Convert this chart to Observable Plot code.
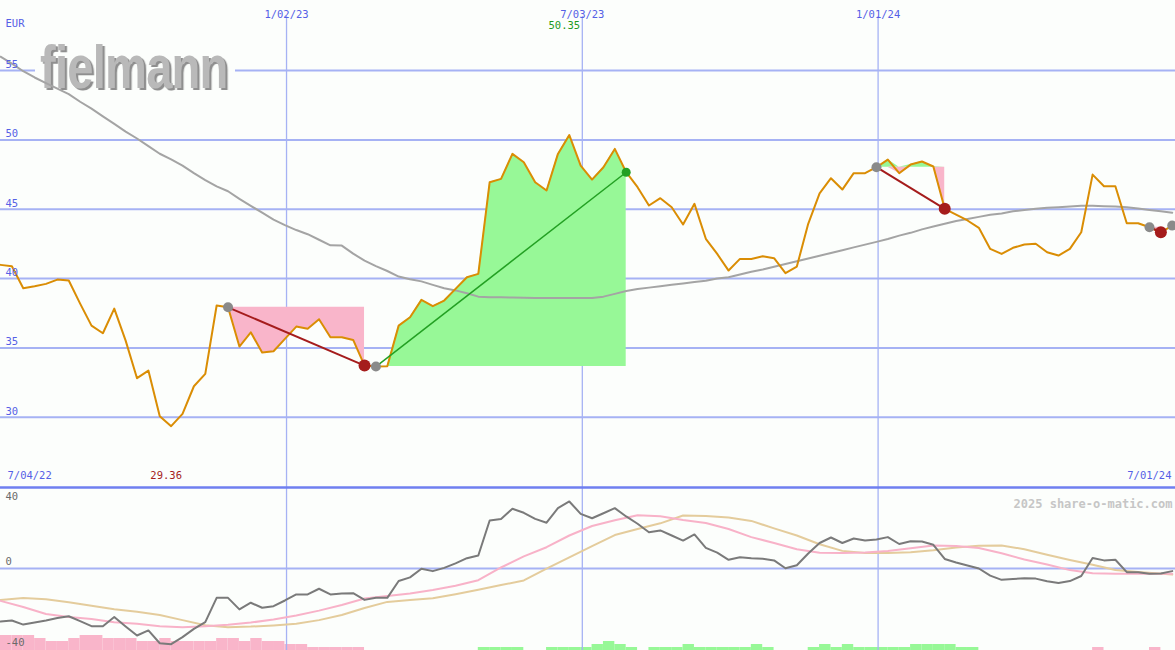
<!DOCTYPE html>
<html><head><meta charset="utf-8">
<script src="https://cdn.jsdelivr.net/npm/d3@7"></script>
<script src="https://cdn.jsdelivr.net/npm/@observablehq/plot@0.6"></script>
<style>
body{margin:0;background:#fcfefc;}
#wrap{position:relative;width:1175px;height:650px;overflow:hidden;background:#fcfefc;}
#wrap svg{position:absolute;left:0;}
</style></head><body><div id="wrap"></div>
<script>
// ---- data (weekly, first week 2022-07-10) ----
const price = [40.99,40.89,39.30,39.45,39.62,39.93,39.86,38.20,36.61,36.06,
37.84,35.53,32.82,33.37,30.08,29.36,30.25,32.24,33.13,38.06,
37.93,35.10,36.13,34.67,34.76,35.66,36.54,36.38,37.07,35.77,
35.77,35.58,33.73,33.66,33.68,36.61,37.21,38.47,38.01,38.42,
39.26,40.10,40.34,46.95,47.19,48.99,48.39,46.95,46.35,48.99,
50.35,48.15,47.14,48.03,49.35,47.67,46.59,45.27,45.80,45.14,
43.90,45.39,42.87,41.78,40.58,41.42,41.42,41.61,41.47,40.39,
40.87,43.95,46.15,47.24,46.42,47.60,47.60,48.03,48.58,47.60,
48.22,48.44,48.08,45.03,44.62,44.19,43.66,42.14,41.78,42.22,
42.46,42.51,41.90,41.66,42.14,43.34,47.50,46.66,46.66,43.99,
43.99,43.70,43.34,43.82];
const movingAvg = [56.0,55.5,54.95,54.5,54.1,53.7,53.3,52.75,52.25,51.7,
51.15,50.6,50.1,49.55,49.0,48.6,48.15,47.6,47.1,46.65,
46.3,45.75,45.25,44.75,44.25,43.85,43.5,43.2,42.8,42.4,
42.38,41.8,41.3,40.9,40.55,40.15,39.95,39.8,39.55,39.3,
39.15,38.95,38.7,38.65,38.65,38.63,38.62,38.61,38.6,38.6,
38.6,38.6,38.6,38.7,38.9,39.1,39.25,39.35,39.45,39.55,
39.65,39.75,39.85,40.0,40.1,40.3,40.5,40.65,40.85,41.05,
41.25,41.45,41.65,41.85,42.05,42.25,42.45,42.65,42.85,43.1,
43.3,43.55,43.75,43.95,44.15,44.3,44.45,44.6,44.7,44.85,
44.95,45.03,45.1,45.15,45.2,45.25,45.25,45.22,45.2,45.15,
45.05,44.95,44.85,44.75];
const momentum = [-26.2,-25.7,-27.7,-26.7,-25.7,-24.5,-23.6,-26.0,-28.5,-28.5,
-24.0,-28.6,-33.1,-30.6,-36.9,-37.4,-33.9,-29.8,-26.5,-14.5,
-14.5,-20.2,-16.9,-19.4,-18.6,-15.8,-12.8,-12.8,-10.0,-12.8,
-12.3,-12.2,-15.5,-14.5,-14.5,-6.2,-4.4,-0.1,-1.3,0.3,
2.5,5.1,6.4,23.7,24.5,29.5,27.5,24.5,22.6,29.8,
33.1,27.0,24.8,27.3,29.8,25.7,22.1,17.9,18.8,16.3,
13.8,16.8,10.2,7.8,4.3,5.6,5.1,4.8,4.0,0.1,
1.6,7.4,12.6,15.3,12.6,14.8,13.8,14.3,15.5,12.1,
13.5,13.3,11.7,4.7,3.0,1.5,0.0,-3.5,-5.6,-5.2,
-4.8,-5.0,-6.3,-7.2,-6.2,-3.7,5.2,4.0,4.3,-1.8,
-1.8,-2.6,-2.5,-1.3];
// smoothed signal lines, sampled at these week indices
const signalWeeks = [0,2,4,6,8,10,12,14,16,18,20,22,24,26,28,30,32,34,36,38,40,42,44,46,48,50,
52,54,56,58,60,62,64,66,68,70,72,74,76,78,80,82,84,86,88,90,92,94,96,98,100,103];
const signalPink = [-16,-19,-22.5,-24,-25,-26.5,-27.3,-28.5,-29,-28.5,-27.8,-26.7,-25.2,-23.2,-20.8,-18,
-14.8,-13.6,-12.4,-10.6,-8.5,-5.8,0.5,6,10.5,16.3,21,23.8,26.3,25.8,24,22.5,19.5,15.5,12.6,9.5,
7.8,7.6,7.9,8.6,10,11.4,11.1,10.1,7.5,4.4,2,-0.8,-2.3,-2.6,-2.6,-2.6];
const signalTan = [-15.5,-14.6,-15.2,-16.7,-18.4,-20.1,-21.4,-23,-25.5,-28,-29,-28.7,-28.1,-27.3,-25.5,-23,
-19.5,-16.5,-15.5,-14.7,-12.7,-10.5,-8.2,-5.9,-0.1,5.5,11,16.5,19.5,22.3,26.2,25.9,25.2,23.5,19.8,16.3,
12,8.7,7.7,7.6,8,9,10.4,11.2,11.4,9.5,6.8,4.2,1.8,-0.7,-1.7,-3.0];
const barLevel = [-5,-5,-5,-4,-3,-3,-4,-5,-5,-4,-4,-4,-3,-3,-4,-3,-3,-3,-3,-4,
-4,-3,-4,-3,-3,-2,-2,-1,-1,-1,-1,-1,0,0,0,0,0,0,0,0,
0,0,1,1,1,1,0,0,1,1,1,1,2,3,2,1,0,1,1,1,
2,1,1,1,1,1,2,1,0,0,0,1,2,1,2,1,1,1,1,1,
2,2,2,2,1,1,0,0,0,0,0,0,0,0,0,0,-1,0,0,0,
0,-1,0,0];
const tradeStart = [20,33,77,101,103];
const tradeEnd = [32,55,83,102];
const yTicks = [30,35,40,45,50,55];
const lowerTicks = [40,0,-40];
const gridDates = ["2023-01-02","2023-07-03","2024-01-01"];
const gridLabels = ["1/02/23","7/03/23","1/01/24"];
const cornerLabels = ["7/04/22","7/01/24"];
const logoText = "fielmann";

// ---- helpers ----
const t0 = new Date(Date.UTC(2022,6,10));
const tEnd = new Date(Date.UTC(2024,6,2));
const dateOf = i => new Date(t0.getTime() + i*7*864e5);
const gridD = gridDates.map(s => new Date(s+"T00:00:00Z"));
const BG = "#fcfefc", GRID = "#a6b2f4", LABEL = "#5560e6";
const GREEN_FILL = "#97f897", PINK_FILL = "#f9b5ca";

const tradeRows = [];
tradeEnd.forEach((e,k) => {
  const s = tradeStart[k];
  for (let i = s; i <= e; i++) tradeRows.push({trade:k, date:dateOf(i), entry:price[s], p:price[i]});
});
const trades = tradeEnd.map((e,k) => {
  const s = tradeStart[k];
  return {x1:dateOf(s), y1:price[s], x2:dateOf(e), y2:price[e], win: price[e] > price[s]};
});
const entryDots = tradeStart.map(i => ({date:dateOf(i), v:price[i]}));
const exitDots = trades.map(t => ({date:t.x2, v:t.y2, win:t.win}));
const maxI = d3.maxIndex(price), minI = d3.minIndex(price);

const xOpt = {type:"utc", domain:[t0,tEnd], range:[0,1175], axis:null};
const font = {fontFamily:"'DejaVu Sans Mono', monospace", fontSize:"10.5px", background:"transparent", overflow:"visible"};

function logoMark() {
  const g = d3.create("svg:g");
  const f = g.append("defs").append("filter").attr("id","logoShadow")
    .attr("x","-10%").attr("y","-10%").attr("width","130%").attr("height","130%");
  f.append("feDropShadow").attr("dx",3).attr("dy",2).attr("stdDeviation",0)
    .attr("flood-color","#8f8f8f").attr("flood-opacity",1);
  g.append("rect").attr("x",35).attr("y",38).attr("width",200).attr("height",56).attr("fill",BG);
  g.append("text").attr("transform","translate(40,88) scale(0.76,1)")
    .attr("text-anchor","start")
    .attr("font-family","'Liberation Sans', Arial, sans-serif").attr("font-weight","bold")
    .attr("font-size",62).attr("letter-spacing",-1).attr("fill","#b9b9b9")
    .attr("filter","url(#logoShadow)").text(logoText);
  return g.node();
}

const topPlot = Plot.plot({
  width:1175, height:487, margin:0,
  x:xOpt, y:{domain:[24.94,60.05], axis:null},
  color:{type:"identity"},
  style:font,
  marks:[
    Plot.ruleY(yTicks, {y:d=>d, stroke:GRID, strokeWidth:2}),
    Plot.ruleX(gridD, {x:d=>d, stroke:GRID, strokeWidth:1.3, insetTop:16}),
    logoMark,
    Plot.areaY(tradeRows, {x:"date", y1:"entry", y2:d=>Math.max(d.p,d.entry), z:"trade", fill:GREEN_FILL}),
    Plot.areaY(tradeRows, {x:"date", y1:"entry", y2:d=>Math.min(d.p,d.entry), z:"trade", fill:PINK_FILL}),
    Plot.line(movingAvg, {x:(d,i)=>dateOf(i), y:d=>d, stroke:"#a4a4a4", strokeWidth:2}),
    Plot.line(price, {x:(d,i)=>dateOf(i), y:d=>d, stroke:"#da8d04", strokeWidth:2}),
    Plot.link(trades, {x1:"x1", y1:"y1", x2:"x2", y2:"y2", stroke:d=>d.win?"#23a023":"#a51c1c", strokeWidth:d=>d.win?1.5:2}),
    Plot.dot(exitDots.filter(d=>!d.win), {x:"date", y:"v", r:6, fill:"#a51c1c"}),
    Plot.dot(entryDots, {x:"date", y:"v", r:5, fill:"#8a8a8a"}),
    Plot.dot(exitDots.filter(d=>d.win), {x:"date", y:"v", r:4.5, fill:"#23a023"}),
    Plot.text(yTicks, {y:d=>d, text:d=>String(d), frameAnchor:"left", dx:5, dy:-6, textAnchor:"start", fill:LABEL}),
    Plot.text(gridLabels, {x:(d,i)=>gridD[i], text:d=>d, frameAnchor:"top", dy:10, fill:LABEL}),
    Plot.text(["EUR"], {text:d=>d, frameAnchor:"top-left", dx:5, dy:19, textAnchor:"start", fill:LABEL}),
    Plot.text([maxI], {x:i=>dateOf(i), text:i=>price[i].toFixed(2), frameAnchor:"top", dy:21, dx:-5, fill:"#1e9a1e"}),
    Plot.text([minI], {x:i=>dateOf(i), text:i=>price[i].toFixed(2), frameAnchor:"bottom", dy:-9, dx:-5, fill:"#a51d1d"}),
    Plot.text([cornerLabels[0]], {text:d=>d, frameAnchor:"bottom-left", dx:7, dy:-9, textAnchor:"start", fill:LABEL}),
    Plot.text([cornerLabels[1]], {text:d=>d, frameAnchor:"bottom-right", dx:-4, dy:-9, textAnchor:"end", fill:LABEL})
  ]
});

const barPlot = Plot.plot({
  width:1175, height:15, margin:0,
  x:xOpt, y:{domain:[0,5], axis:null},
  style:font,
  marks:[
    Plot.rectY(barLevel.map((v,i)=>({i,v})).filter(d=>d.v<0), {x1:d=>dateOf(d.i), x2:d=>dateOf(d.i+1), y:d=>-d.v, fill:PINK_FILL}),
    Plot.rectY(barLevel.map((v,i)=>({i,v})).filter(d=>d.v>0), {x1:d=>dateOf(d.i), x2:d=>dateOf(d.i+1), y:d=>d.v, fill:GREEN_FILL})
  ]
});

const lowPlot = Plot.plot({
  width:1175, height:166, margin:0, marginTop:3,
  x:xOpt, y:{domain:[-40.5,40], axis:null},
  style:font,
  marks:[
    Plot.ruleY([0], {y:d=>d, stroke:GRID, strokeWidth:2}),
    Plot.ruleX(gridD, {x:d=>d, stroke:GRID, strokeWidth:1.3}),
    Plot.ruleY([40], {y:d=>d, stroke:"#6f7ff0", strokeWidth:2.5}),
    Plot.line(signalTan, {x:(d,i)=>dateOf(signalWeeks[i]), y:d=>d, stroke:"#e4cc9c", strokeWidth:2}),
    Plot.line(signalPink, {x:(d,i)=>dateOf(signalWeeks[i]), y:d=>d, stroke:"#f8b2c8", strokeWidth:2}),
    Plot.line(momentum, {x:(d,i)=>dateOf(i), y:d=>d, stroke:"#7a7a7a", strokeWidth:2}),
    Plot.text(lowerTicks.slice(0,1), {y:d=>d, text:d=>String(d), frameAnchor:"left", dx:5, dy:9, textAnchor:"start", fill:"#6a6a6a"}),
    Plot.text(lowerTicks.slice(1), {y:d=>d, text:d=>String(d), frameAnchor:"left", dx:5, dy:-6.5, textAnchor:"start", fill:"#6a6a6a"}),
    Plot.text(["2025 share-o-matic.com"], {text:d=>d, frameAnchor:"top-right", dx:-3, dy:12, textAnchor:"end", fill:"#c6c6c6", fontWeight:"bold", fontSize:12})
  ]
});

const wrap = document.getElementById("wrap");
topPlot.style.top = "0px";
barPlot.style.top = "635px";
lowPlot.style.top = "484px";
wrap.append(topPlot, barPlot, lowPlot);
</script>
</body></html>
